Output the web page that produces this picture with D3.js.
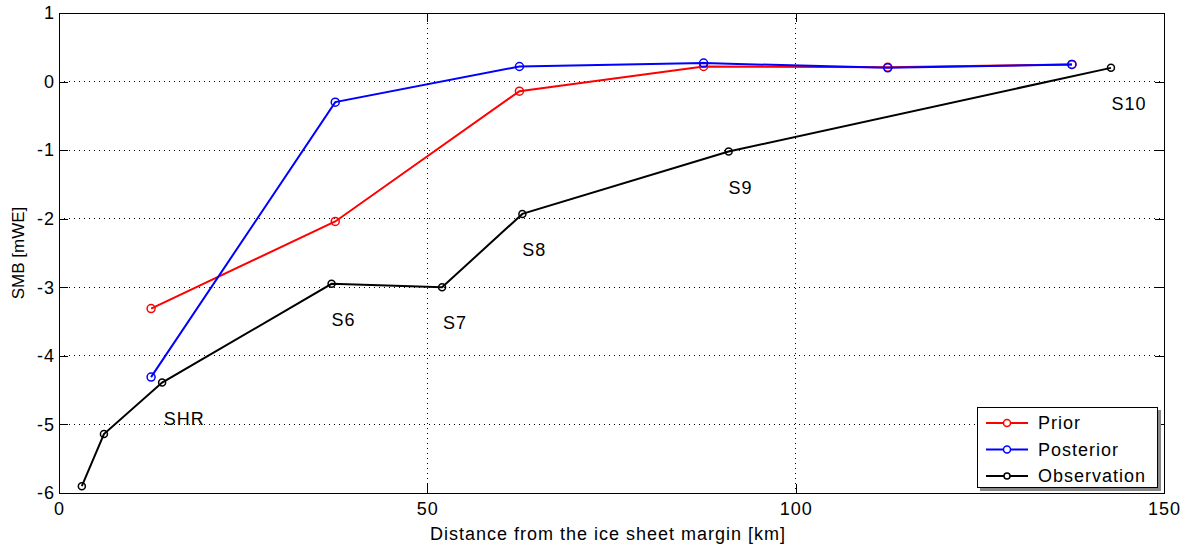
<!DOCTYPE html>
<html><head><meta charset="utf-8">
<script src="https://cdn.jsdelivr.net/npm/d3@7"></script>
<style>body{margin:0;background:#fff}svg{display:block}text{font-family:"Liberation Sans",Arial,sans-serif;letter-spacing:1px}</style>
</head><body><svg id="c" width="1188" height="546"></svg>
<script>
const priorX = [12.5, 37.5, 62.5, 87.5, 112.5, 137.5];
const priorY = [-3.31, -2.04, -0.14, 0.22, 0.21, 0.25];
const postX = [12.5, 37.5, 62.5, 87.5, 112.5, 137.5];
const postY = [-4.31, -0.30, 0.22, 0.27, 0.20, 0.25];
const obsX = [3.1, 6.1, 14.0, 37.0, 52.0, 62.9, 90.9, 142.8];
const obsY = [-5.90, -5.14, -4.39, -2.95, -3.00, -1.93, -1.02, 0.20];
const obsLabels = ["", "", "SHR", "S6", "S7", "S8", "S9", "S10"];
const xTicks = [0, 50, 100, 150];
const yTicks = [1, 0, -1, -2, -3, -4, -5, -6];
const seriesNames = ["Prior", "Posterior", "Observation"];
const seriesColors = ["#ff0000", "#0000ff", "#000000"];

const svg = d3.select("#c");
const L = 59, R = 1164, T = 13, B = 493;
const FS = 18;
const x = d3.scaleLinear().domain([0, 150]).range([L, R]);
const y = d3.scaleLinear().domain([-6, 1]).range([B, T]);
const fmt = d => String(d); // plain hyphen-minus like the original

// grid
const g = svg.append("g");
g.selectAll(".gy").data(yTicks.filter(v => v !== 1 && v !== -6)).join("line")
  .attr("x1", L).attr("x2", R).attr("y1", d => y(d)).attr("y2", d => y(d))
  .attr("stroke", "#000").attr("stroke-width", 1).attr("stroke-dasharray", "1,4").attr("shape-rendering", "crispEdges");
g.selectAll(".gx").data(xTicks.filter(v => v !== 0 && v !== 150)).join("line")
  .attr("y1", T).attr("y2", B).attr("x1", d => x(d)).attr("x2", d => x(d))
  .attr("stroke", "#000").attr("stroke-width", 1).attr("stroke-dasharray", "1,4").attr("shape-rendering", "crispEdges");

// axes
const ax = svg.append("g").attr("transform", `translate(0,${B})`)
  .call(d3.axisBottom(x).tickValues(xTicks).tickSize(-9).tickPadding(9).tickFormat(fmt));
const ay = svg.append("g").attr("transform", `translate(${L},0)`)
  .call(d3.axisLeft(y).tickValues(yTicks).tickSize(-9).tickPadding(4).tickFormat(fmt));
const axT = svg.append("g").attr("transform", `translate(0,${T})`)
  .call(d3.axisTop(x).tickValues(xTicks).tickSize(-9).tickFormat(""));
const ayR = svg.append("g").attr("transform", `translate(${R},0)`)
  .call(d3.axisRight(y).tickValues(yTicks).tickSize(-9).tickFormat(""));
[ax, ay, axT, ayR].forEach(a => {
  a.select(".domain").attr("stroke", "#000").attr("shape-rendering", "crispEdges");
  a.selectAll(".tick line").attr("stroke", "#000").attr("shape-rendering", "crispEdges");
  a.selectAll("text").attr("font-size", FS).attr("fill", "#000").style("font-family", "'Liberation Sans', Arial, sans-serif");
});

svg.append("text").attr("x", 608).attr("y", 540).attr("text-anchor", "middle")
  .attr("font-size", FS).text("Distance from the ice sheet margin [km]");
svg.append("text").attr("transform", `translate(24,${(T + B) / 2}) rotate(-90)`).attr("text-anchor", "middle")
  .attr("font-size", 17).style("letter-spacing", "0px").text("SMB [mWE]");

const line = d3.line().x(d => x(d[0])).y(d => y(d[1]));
const series = [
  d3.zip(priorX, priorY),
  d3.zip(postX, postY),
  d3.zip(obsX, obsY)
];
const widths = [2, 2, 2];
const radii = [4, 4, 3.5];
series.forEach((s, i) => {
  svg.append("path").datum(s).attr("d", line).attr("fill", "none")
    .attr("stroke", seriesColors[i]).attr("stroke-width", widths[i]);
  svg.selectAll(null).data(s).join("circle")
    .attr("cx", d => x(d[0])).attr("cy", d => y(d[1])).attr("r", radii[i])
    .attr("fill", "none").attr("stroke", seriesColors[i]).attr("stroke-width", 1.5);
});

// station labels
const ldx = [0, 0, 22, 12, 13, 12, 12, 18];
svg.selectAll(null).data(d3.zip(obsX, obsY, obsLabels, ldx).filter(d => d[2])).join("text")
  .attr("x", d => x(d[0]) + d[3]).attr("y", d => y(d[1]) + 42)
  .attr("text-anchor", "middle").attr("font-size", FS).text(d => d[2]);

// legend
const lg = svg.append("g");
lg.append("rect").attr("x", 980).attr("y", 410).attr("width", 181).attr("height", 81).attr("fill", "#888");
lg.append("rect").attr("x", 977.5).attr("y", 407.5).attr("width", 180).attr("height", 80)
  .attr("fill", "#fff").attr("stroke", "#000").attr("stroke-width", 1);
seriesNames.forEach((n, i) => {
  const yy = 423 + i * 26.5;
  lg.append("line").attr("x1", 986).attr("x2", 1028).attr("y1", yy).attr("y2", yy)
    .attr("stroke", seriesColors[i]).attr("stroke-width", 2);
  lg.append("circle").attr("cx", 1007).attr("cy", yy).attr("r", radii[i] - 0.5)
    .attr("fill", "#fff").attr("stroke", seriesColors[i]).attr("stroke-width", 1.5);
  lg.append("text").attr("x", 1038).attr("y", yy + 6).attr("font-size", FS).text(n);
});
</script></body></html>
